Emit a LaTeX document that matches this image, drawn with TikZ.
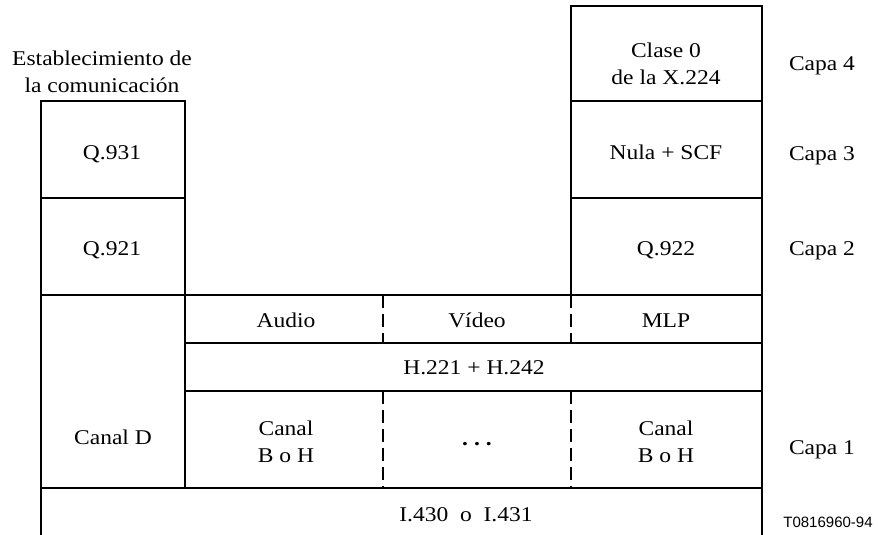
\documentclass[tikz,border=0pt]{standalone}
\usepackage{fontspec}
\setmainfont{Liberation Serif}[FakeStretch=1.12]
\newfontfamily\tagfont{Liberation Sans}

\begin{document}
\begin{tikzpicture}[x=1pt,y=-1pt,
every node/.style={font=\fontsize{21}{27}\selectfont,align=center,inner sep=0pt},
cell/.style={text height=1.5ex,text depth=.25ex},
rule/.style={line width=1.4pt},
split/.style={line width=1.4pt,dash pattern=on 13pt off 6pt}]
\useasboundingbox (0,0) rectangle (878,535);
% grid of corners
\foreach \c/\x in {a/41,b/185,c/383,d/571,e/762}
  \foreach \r/\y in {0/6,1/101,2/198,3/295,4/343,5/391,6/488,7/535}
    \coordinate (\c\r) at (\x,\y);
% left stack
\draw[rule] (b6)--(b1)--(a1)--(a7);
\draw[rule] (a2)--(b2);
% right stack
\draw[rule] (d3)--(d0)--(e0)--(e7);
\draw[rule] (d1)--(e1);
\draw[rule] (d2)--(e2);
% rows across
\draw[rule] (a3)--(e3);
\draw[rule] (b4)--(e4);
\draw[rule] (b5)--(e5);
\draw[rule] (a6)--(e6);
\draw[split] (c3)--(c4) (d3)--(d4) (c5)--(c6) (d5)--(d6);
% texts
\node (setup) at (102,72) {Establecimiento de\\la comunicación};
\node[cell] (q931) at (112,157) {Q.931};
\node[cell] (q921) at (112,253) {Q.921};
\node[cell] (canalD) at (113,442) {Canal D};
\node (x224) at (666,64) {Clase 0\\de la X.224};
\node[cell] (scf) at (666,157) {Nula + SCF};
\node[cell] (q922) at (666,253) {Q.922};
\node[cell] (audio) at (286,325) {Audio};
\node[cell] (video) at (477,325) {Vídeo};
\node[cell] (mlp) at (666,325) {MLP};
\node[cell] (h221) at (474,372) {H.221 + H.242};
\node (chanB) at (286,442) {Canal\\B o H};
\node (dots) at (477,444) {\textbf{.}\hspace{6pt}\textbf{.}\hspace{6pt}\textbf{.}};
\node (chanH) at (666,442) {Canal\\B o H};
\node[cell] (i430) at (466,519) {I.430\ \ o\ \ I.431};
\node[cell] (capa4) at (822,68) {Capa 4};
\node[cell] (capa3) at (822,158) {Capa 3};
\node[cell] (capa2) at (822,253) {Capa 2};
\node[cell] (capa1) at (822,452) {Capa 1};
\node[font=\tagfont\fontsize{15}{18}\selectfont] (tag) at (828,522) {T0816960-94};
\end{tikzpicture}
\end{document}
